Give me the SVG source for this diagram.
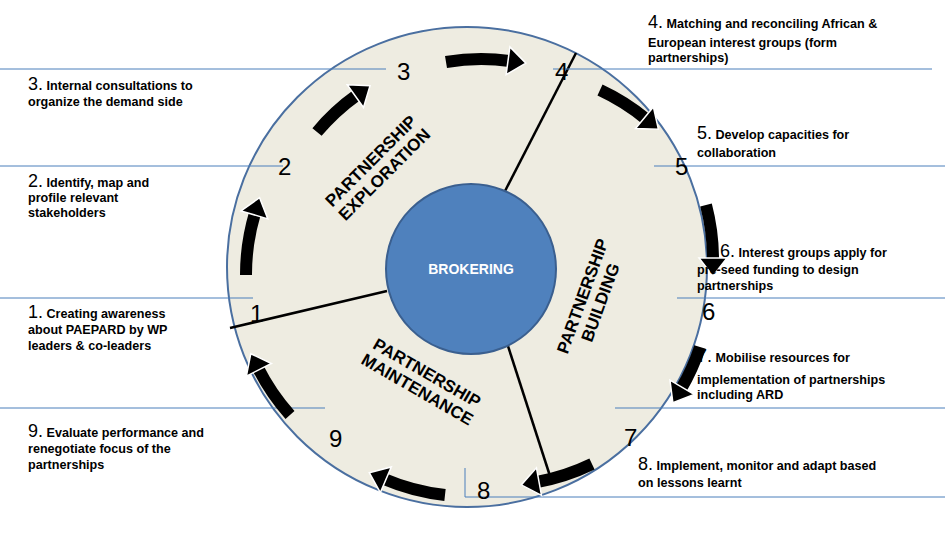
<svg xmlns="http://www.w3.org/2000/svg" width="947" height="537" viewBox="0 0 947 537">
<style>
.n{font-family:"Liberation Sans",Arial,sans-serif;font-size:24px;fill:#000}
.t{font-family:"Liberation Sans",Arial,sans-serif;font-size:12.6px;font-weight:bold;fill:#000}
.tn{font-size:18px;font-weight:normal}
.s{font-family:"Liberation Sans",Arial,sans-serif;font-size:17px;font-weight:bold;fill:#000;text-anchor:middle}
.bl{stroke:#4a7ebb;stroke-width:1;fill:none}
.ar{fill:none;stroke:#000;stroke-width:12;marker-end:url(#h)}
.dv{stroke:#000;stroke-width:2.5}
</style>
<defs>
<marker id="h" markerUnits="userSpaceOnUse" markerWidth="22" markerHeight="30" refX="2" refY="14" orient="auto" overflow="visible">
<path d="M0,0 L18,14 L0,28 z" fill="#000" stroke="#fff" stroke-width="1.5"/>
</marker>
</defs>
<rect width="947" height="537" fill="#fff"/>
<g id="ring"><circle cx="467" cy="267" r="240" fill="#eeece1" stroke="#4a6fa0" stroke-width="2"/></g>
<g id="connectors">
<line class="dv" x1="504" y1="193" x2="576" y2="53"/>
<line class="dv" x1="387" y1="291" x2="230" y2="328"/>
<line class="dv" x1="507" y1="343" x2="550" y2="476"/>
<path class="bl" d="M0,69H386M553,69H932M0,166H283M654,166H945M0,298H253M677,298H945M0,408H325M615,408H945M465,468V497H945"/>
<path class="ar" d="M246,275 A215,215 0 0 1 255,213"/>
<path class="ar" d="M317,132 A215,215 0 0 1 357,95"/>
<path class="ar" d="M446,62 A215,215 0 0 1 510,61"/>
<path class="ar" d="M600,90 A215,215 0 0 1 646,119"/>
<path class="ar" d="M706,205 A215,215 0 0 1 713,260"/>
<path class="ar" d="M700,347 A215,215 0 0 1 681,389"/>
<path class="ar" d="M592,464 A215,215 0 0 1 537,482"/>
<path class="ar" d="M445,495 A215,215 0 0 1 384,479"/>
<path class="ar" d="M290,415 A215,215 0 0 1 258,368"/>
</g>
<g id="brokering"><circle cx="471" cy="269" r="85" fill="#4f81bd" stroke="#3a5f8f" stroke-width="2"/>
<text x="471" y="274" font-family="Liberation Sans,Arial,sans-serif" font-size="14" font-weight="bold" fill="#fff" text-anchor="middle">BROKERING</text></g>
<g id="sectors">
<text class="s" transform="translate(375,165) rotate(-45)"><tspan x="0" y="0">PARTNERSHIP</tspan><tspan x="0" y="19">EXPLORATION</tspan></text>
<text class="s" transform="translate(588,298) rotate(-70)"><tspan x="0" y="0">PARTNERSHIP</tspan><tspan x="0" y="19">BUILDING</tspan></text>
<text class="s" transform="translate(424,378) rotate(30)"><tspan x="0" y="0">PARTNERSHIP</tspan><tspan x="0" y="19">MAINTENANCE</tspan></text>
</g>
<g id="numbers">
<text class="n" x="397" y="80">3</text><text class="n" x="555" y="80">4</text>
<text class="n" x="278" y="175">2</text><text class="n" x="675" y="175">5</text>
<text class="n" x="250" y="322">1</text><text class="n" x="702" y="320">6</text>
<text class="n" x="329" y="447">9</text><text class="n" x="624" y="446">7</text>
<text class="n" x="477" y="499">8</text>
</g>
<g id="labels">
<text class="t" x="28" y="90"><tspan class="tn">3.</tspan>  Internal consultations to<tspan x="28" y="106">organize the demand side</tspan></text>
<text class="t" x="28" y="187"><tspan class="tn">2.</tspan>  Identify, map and<tspan x="28" y="202">profile relevant</tspan><tspan x="28" y="217">stakeholders</tspan></text>
<text class="t" x="28" y="318"><tspan class="tn">1.</tspan>  Creating awareness<tspan x="28" y="334">about PAEPARD by WP</tspan><tspan x="28" y="350">leaders &amp; co-leaders</tspan></text>
<text class="t" x="28" y="437"><tspan class="tn">9.</tspan>  Evaluate performance and<tspan x="28" y="453">renegotiate focus of the</tspan><tspan x="28" y="469">partnerships</tspan></text>
<text class="t" x="648" y="28"><tspan class="tn">4.</tspan>    Matching and reconciling African &amp;<tspan x="648" y="47">European interest groups (form</tspan><tspan x="648" y="62">partnerships)</tspan></text>
<text class="t" x="697" y="139"><tspan class="tn">5.</tspan>  Develop capacities for<tspan x="697" y="157">collaboration</tspan></text>
<text class="t" x="720" y="257"><tspan class="tn">6.</tspan>  Interest groups  apply for<tspan x="697" y="274">pre-seed funding to design</tspan><tspan x="697" y="290">partnerships</tspan></text>
<text class="t" x="697" y="362"><tspan class="tn">7.</tspan>  Mobilise resources for<tspan x="697" y="384">implementation of partnerships</tspan><tspan x="697" y="399">including ARD</tspan></text>
<text class="t" x="638" y="470"><tspan class="tn">8.</tspan>  Implement, monitor and adapt based<tspan x="638" y="487">on lessons learnt</tspan></text>
</g>
</svg>
